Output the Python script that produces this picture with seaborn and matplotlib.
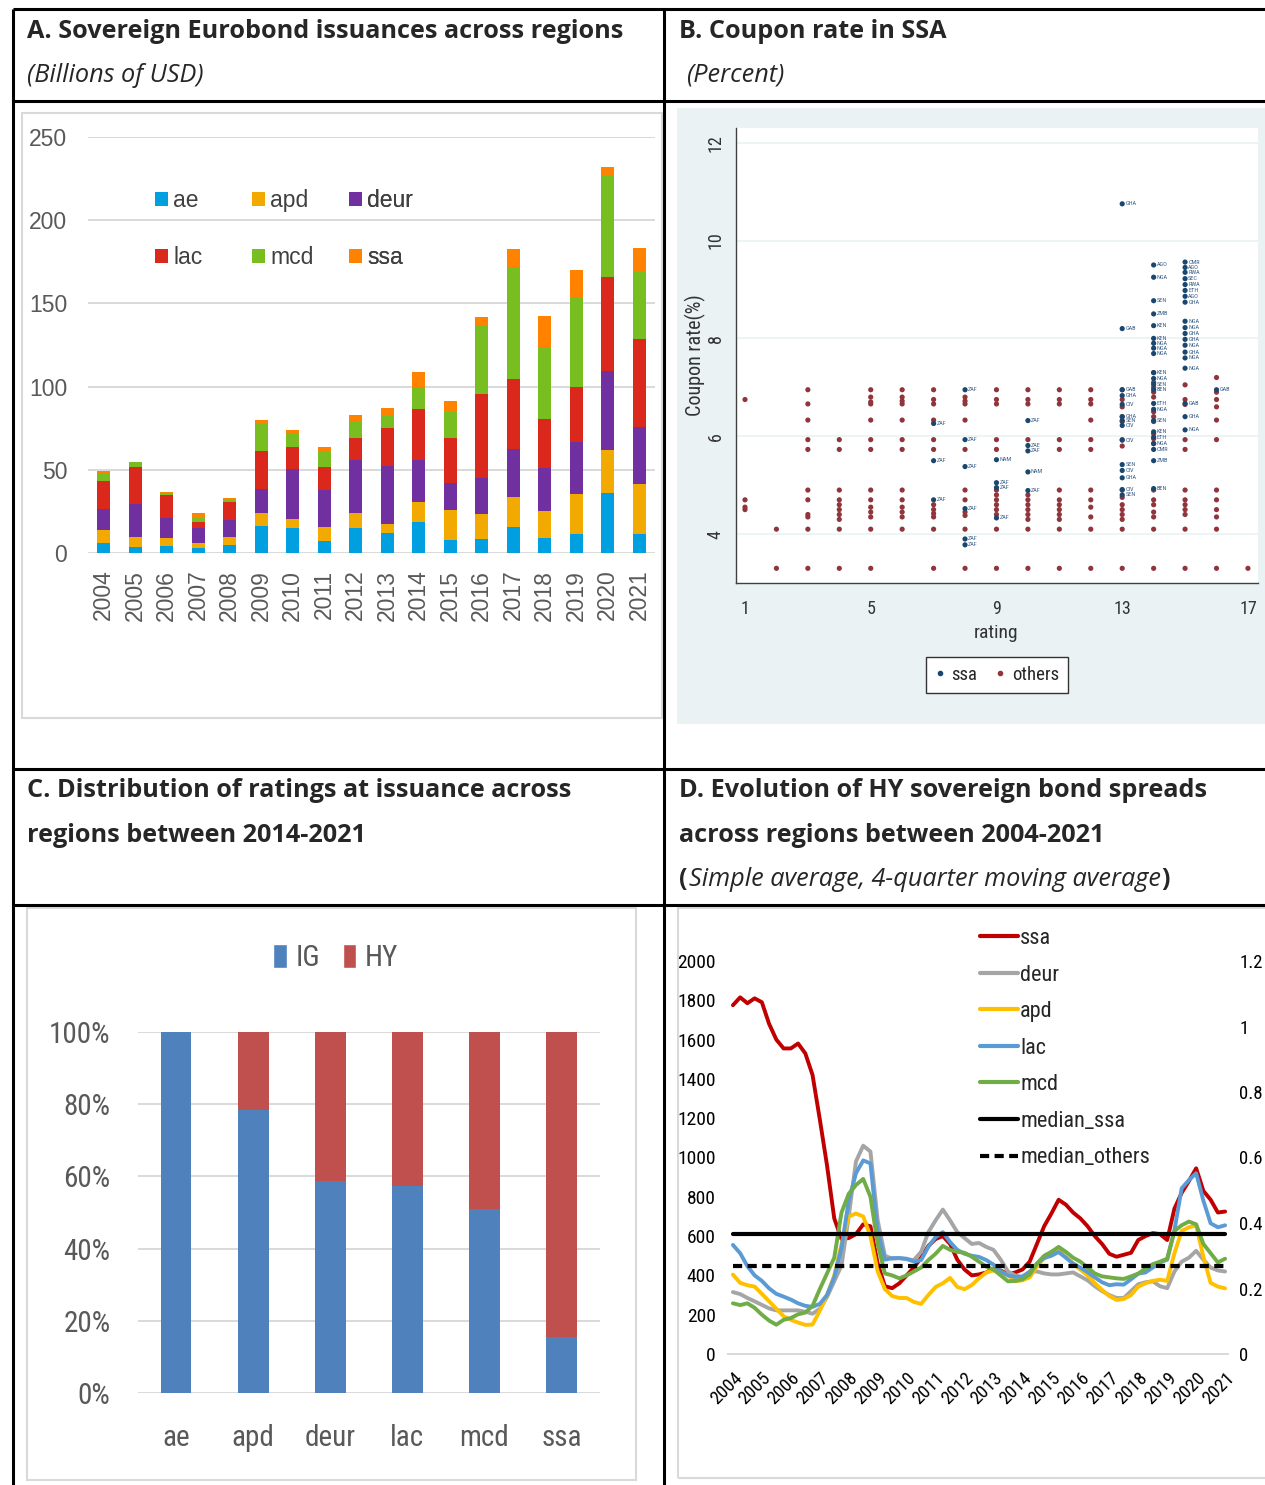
import numpy as np
import pandas as pd
import matplotlib
matplotlib.use("Agg")
import matplotlib.pyplot as plt
import seaborn as sns
from matplotlib.patches import Patch, Rectangle
from matplotlib.lines import Line2D
from matplotlib import font_manager as fm
from matplotlib.font_manager import FontProperties

# ---------------- Panel A data (Billions of USD) ----------------
years_a = [str(y) for y in range(2004, 2022)]
ae_iss   = [6.2, 3.4, 4.0, 2.8, 4.6, 16.3, 15.3, 7.0, 15.1, 11.9, 18.9, 7.8, 8.2, 15.9, 8.8, 11.3, 36.0, 11.3]
apd_iss  = [7.9, 6.4, 5.0, 3.4, 4.8, 7.6, 5.2, 8.5, 9.2, 5.4, 12.0, 18.1, 15.3, 17.9, 16.3, 23.9, 26.1, 30.3]
deur_iss = [12.2, 19.5, 11.9, 8.9, 10.5, 14.5, 30.1, 22.5, 31.8, 35.2, 25.2, 16.3, 21.7, 28.9, 26.1, 31.3, 47.0, 34.4]
lac_iss  = [16.9, 22.3, 13.7, 3.4, 10.6, 22.7, 13.1, 13.6, 13.0, 22.9, 30.3, 26.9, 50.3, 41.8, 29.2, 33.0, 56.5, 52.6]
mcd_iss  = [4.6, 3.1, 1.0, 2.8, 2.1, 16.3, 8.4, 9.7, 10.3, 6.8, 13.1, 15.5, 41.6, 67.5, 43.2, 54.6, 61.7, 40.8]
ssa_iss  = [1.2, 0.0, 0.8, 2.6, 0.2, 2.4, 2.1, 2.2, 3.4, 5.0, 9.0, 6.6, 4.8, 10.7, 19.1, 15.9, 4.8, 13.7]
regions_a = ["ae", "apd", "deur", "lac", "mcd", "ssa"]

# ---------------- Panel B data (coupon %, by rating) ----------------
others_ratings = list(range(1, 18))
others_coupons = [
    [6.75, 4.7, 4.55, 4.5],
    [4.1, 3.3],
    [6.95, 6.66, 6.33, 5.93, 5.73, 4.9, 4.7, 4.4, 4.35, 4.1, 3.3],
    [5.93, 5.73, 4.9, 4.7, 4.6, 4.5, 4.4, 4.3, 4.1, 3.3],
    [6.95, 6.8, 6.7, 6.66, 6.33, 5.93, 5.73, 4.9, 4.7, 4.55, 4.45, 4.35, 4.1, 3.3],
    [6.95, 6.8, 6.72, 6.66, 6.33, 5.93, 5.73, 4.9, 4.7, 4.55, 4.45, 4.35, 4.1],
    [6.95, 6.75, 6.66, 6.33, 5.93, 5.73, 4.6, 4.5, 4.42, 4.35, 4.1, 3.3],
    [6.8, 6.72, 6.66, 6.33, 5.73, 4.9, 4.7, 4.45, 4.38, 4.1, 3.3],
    [6.95, 6.75, 6.66, 5.93, 5.73, 4.9, 4.8, 4.7, 4.6, 4.5, 4.4, 4.1, 3.3],
    [6.95, 6.75, 6.66, 5.93, 4.8, 4.7, 4.6, 4.5, 4.4, 4.3, 4.1, 3.3],
    [6.95, 6.75, 6.66, 5.93, 5.73, 4.9, 4.7, 4.6, 4.5, 4.4, 4.3, 4.1, 3.3],
    [6.95, 6.75, 6.66, 6.33, 5.93, 5.73, 4.9, 4.7, 4.55, 4.35, 4.1, 3.3],
    [6.95, 6.75, 6.6, 6.4, 6.3, 5.93, 5.8, 4.9, 4.75, 4.6, 4.5, 4.4, 4.3, 4.1, 3.3],
    [7.3, 7.1, 7.0, 6.9, 6.8, 6.5, 6.4, 6.3, 6.05, 5.95, 5.85, 4.9, 4.7, 4.6, 4.45, 4.35, 4.1, 3.3],
    [7.05, 6.75, 6.65, 5.93, 5.73, 4.9, 4.7, 4.6, 4.5, 4.4, 4.1, 3.3],
    [7.2, 6.9, 6.75, 6.6, 6.33, 5.93, 4.9, 4.7, 4.5, 4.35, 4.1, 3.3],
    [3.3],
]
ssa_rating = [7, 7, 7,
              8, 8, 8, 8, 8, 8,
              9, 9, 9, 9,
              10, 10, 10, 10, 10,
              13, 13, 13, 13, 13, 13, 13, 13, 13, 13, 13, 13, 13, 13,
              14, 14, 14, 14, 14, 14, 14, 14, 14, 14, 14, 14, 14, 14, 14, 14, 14, 14, 14, 14, 14, 14,
              15, 15, 15, 15, 15, 15, 15, 15, 15, 15, 15, 15, 15, 15, 15, 15, 15, 15, 15,
              16]
ssa_coupon = [6.26, 5.5, 4.7,
              6.95, 5.93, 5.38, 4.52, 3.9, 3.78,
              5.52, 5.05, 4.95, 4.33,
              6.32, 5.81, 5.7, 5.27, 4.89,
              10.75, 8.2, 6.95, 6.83, 6.65, 6.4, 6.32, 6.22, 5.92, 5.42, 5.3, 5.15, 4.91, 4.8,
              9.5, 9.25, 8.77, 8.5, 8.26, 8.0, 7.9, 7.8, 7.69, 7.3, 7.18, 7.06, 6.95, 6.67, 6.55,
              6.32, 6.09, 5.98, 5.85, 5.73, 5.5, 4.93,
              9.56, 9.45, 9.35, 9.22, 9.1, 8.98, 8.86, 8.74, 8.35, 8.22, 8.1, 7.98, 7.86, 7.72, 7.6,
              7.39, 6.67, 6.4, 6.13,
              6.95]
ssa_code = ["ZAF", "ZAF", "ZAF",
            "ZAF", "ZAF", "ZAF", "ZAF", "ZAF", "ZAF",
            "NAM", "ZAF", "ZAF", "ZAF",
            "ZAF", "ZAE", "ZAF", "NAM", "ZAF",
            "GHA", "GAB", "GAB", "GHA", "CIV", "GHA", "SEN", "CIV", "CIV", "SEN", "CIV", "GHA", "CIV", "SEN",
            "AGO", "NGA", "SEN", "ZMB", "KEN", "KEN", "NGA", "NGA", "NGA", "KEN", "NGA", "SEN", "BEN",
            "ETH", "NGA", "SEN", "KEN", "ETH", "NGA", "CMR", "ZMB", "BEN",
            "CMR", "AGO", "RWA", "SEC", "RWA", "ETH", "AGO", "GHA", "NGA", "NGA", "GHA", "GHA", "NGA",
            "GHA", "NGA", "NGA", "GAB", "GHA", "NGA",
            "GAB"]

# ---------------- Panel C data (share of issuance) ----------------
regions_c = ["ae", "apd", "deur", "lac", "mcd", "ssa"]
ig_share = [100.0, 78.4, 58.8, 57.4, 51.1, 15.6]
hy_share = [0.0, 21.6, 41.2, 42.6, 48.9, 84.4]

# ---------------- Panel D data (spreads, quarterly 2004Q1-2021Q1) ----------------
quarters = np.arange(2004.0, 2021.01, 0.25)
spread_ssa = [1775, 1815, 1785, 1810, 1790, 1680, 1600, 1555, 1555, 1580, 1530, 1420,
              1195, 960, 690, 585, 590, 610, 660, 650, 460, 345, 335, 360,
              400, 440, 490, 550, 585, 600, 560, 480, 430, 400, 405, 415,
              435, 425, 405, 415, 430, 470, 560, 650, 715, 785, 760, 720,
              690, 650, 600, 560, 510, 495, 505, 515, 580, 600, 615, 610,
              580, 740, 820, 880, 945, 830, 785, 720, 725]
spread_deur = [315, 305, 285, 268, 250, 232, 222, 222, 222, 222, 215, 205,
               230, 290, 370, 450, 700, 980, 1060, 1030, 680, 500, 485, 488,
               482, 478, 520, 620, 680, 735, 680, 620, 590, 560, 565, 545,
               530, 480, 420, 400, 390, 420, 420, 410, 405, 405, 410, 415,
               395, 375, 345, 320, 300, 285, 285, 320, 355, 365, 370, 345,
               335, 420, 470, 490, 525, 480, 440, 425, 420]
spread_apd = [404, 362, 350, 343, 306, 268, 230, 192, 174, 160, 148, 150,
              220, 300, 400, 560, 700, 715, 700, 600, 420, 330, 295, 285,
              285, 265, 255, 300, 341, 360, 387, 341, 330, 351, 385, 415,
              425, 420, 400, 370, 375, 390, 445, 490, 515, 530, 495, 460,
              430, 400, 360, 326, 295, 275, 280, 300, 343, 360, 372, 378,
              372, 513, 626, 645, 655, 494, 362, 343, 334]
spread_lac = [555, 513, 447, 400, 372, 334, 306, 292, 277, 258, 245, 240,
              255, 300, 390, 540, 780, 920, 985, 970, 620, 480, 488, 488,
              485, 470, 478, 545, 595, 620, 570, 530, 510, 500, 494, 478,
              455, 420, 400, 392, 395, 417, 460, 488, 500, 519, 490, 460,
              440, 417, 390, 365, 350, 355, 353, 380, 409, 415, 440, 466,
              480, 630, 843, 885, 920, 780, 665, 645, 655]
spread_mcd = [258, 249, 258, 235, 200, 170, 149, 174, 183, 202, 211, 245,
              330, 410, 490, 720, 815, 860, 891, 800, 560, 410, 400, 385,
              400, 420, 440, 478, 510, 550, 530, 520, 515, 495, 470, 445,
              430, 400, 370, 372, 380, 405, 460, 500, 520, 545, 520, 490,
              470, 440, 410, 395, 390, 385, 382, 395, 409, 435, 457, 470,
              485, 626, 655, 674, 660, 560, 513, 466, 485]
median_ssa = 610
median_others = 447
year_ticks = list(range(2004, 2022))

# ---------------- styling ----------------
sns.set_theme(style="white")
ARIAL = ["Liberation Sans", "DejaVu Sans"]
HEAD = ["Open Sans", "DejaVu Sans"]
plt.rcParams["font.family"] = ARIAL


def pick_narrow():
    fl = fm.fontManager.ttflist
    names = {f.name for f in fl}
    for n in ["Roboto Condensed", "Liberation Sans Narrow", "Arial Narrow",
              "Open Sans Condensed", "DejaVu Sans Condensed", "Noto Sans Condensed"]:
        if n in names:
            return n, "normal"
    for pref in ["Liberation Sans", "Open Sans", "Noto Sans", "DejaVu Sans", "Roboto"]:
        for f in fl:
            if f.name == pref and f.stretch in ("condensed", "semi-condensed") and f.style == "normal" \
                    and f.weight in (400, "normal", "regular"):
                return f.name, f.stretch
    return "Liberation Sans", "normal"


NFAM, NSTR = pick_narrow()


def nfp(size, weight="normal"):
    return FontProperties(family=[NFAM, "DejaVu Sans"], stretch=NSTR, size=size, weight=weight)


W, H = 1265, 1485
fig = plt.figure(figsize=(W / 100, H / 100), dpi=100)
fig.patch.set_facecolor("white")


def fx(px):
    return px / W


def fy(py):
    return 1 - py / H


def hline(y, x0, x1, lw=2.2, color="black"):
    fig.add_artist(Line2D([fx(x0), fx(x1)], [fy(y), fy(y)], transform=fig.transFigure,
                          color=color, lw=lw, solid_capstyle="butt"))


def vline(x, y0, y1, lw=2.2, color="black"):
    fig.add_artist(Line2D([fx(x), fx(x)], [fy(y0), fy(y1)], transform=fig.transFigure,
                          color=color, lw=lw, solid_capstyle="butt"))


def box(x0, y0, x1, y1, color="#D9D9D9", face="none", lw=1.5, z=0):
    fig.add_artist(Rectangle((fx(x0), fy(y1)), (x1 - x0) / W, (y1 - y0) / H,
                             transform=fig.transFigure, facecolor=face,
                             edgecolor=color, lw=lw, zorder=z))


# table lines
hline(9, 13, W)
hline(101, 13, W)
hline(769, 13, W)
hline(905, 13, W)
vline(13, 9, H)
vline(664, 9, H)

# headers
HS = 18.2
hkw = dict(fontsize=HS, fontweight="bold", family=HEAD, va="center", ha="left")
ikw = dict(fontsize=HS, style="italic", family=HEAD, va="center", ha="left")
fig.text(fx(27), fy(31), "A. Sovereign Eurobond issuances across regions", **hkw)
fig.text(fx(27), fy(75), "(Billions of USD)", **ikw)
fig.text(fx(679), fy(31), "B. Coupon rate in SSA", **hkw)
fig.text(fx(686), fy(75), "(Percent)", **ikw)
fig.text(fx(27), fy(791), "C. Distribution of ratings at issuance across", **hkw)
fig.text(fx(27), fy(836), "regions between 2014-2021", **hkw)
fig.text(fx(679), fy(791), "D. Evolution of HY sovereign bond spreads", **hkw)
fig.text(fx(679), fy(836), "across regions between 2004-2021", **hkw)

fig.canvas.draw()
renderer = fig.canvas.get_renderer()
t1 = fig.text(fx(679), fy(880), "(", **hkw)
x_cur = t1.get_window_extent(renderer).x1
t2 = fig.text(x_cur / W + 0.0008, fy(880), "Simple average, 4-quarter moving average", **ikw)
x_cur = t2.get_window_extent(renderer).x1
fig.text(x_cur / W + 0.0008, fy(880), ")", **hkw)

# ================= Panel A =================
box(22, 113, 662, 718)
axA = fig.add_axes([fx(88), fy(553), (655 - 88) / W, (553 - 137) / H])
colA = {"ae": "#009FDF", "apd": "#F2A900", "deur": "#7030A0",
        "lac": "#DA291C", "mcd": "#78BE20", "ssa": "#FF8200"}
layers = [ae_iss, apd_iss, deur_iss, lac_iss, mcd_iss, ssa_iss]
cum = np.cumsum(np.array(layers), axis=0)
for i in range(len(regions_a) - 1, -1, -1):
    sns.barplot(x=years_a, y=cum[i], color=colA[regions_a[i]], width=0.41,
                saturation=1, errorbar=None, linewidth=0, ax=axA, zorder=3)
axA.set_xlim(-0.5, 17.5)
axA.set_ylim(0, 250)
axA.set_yticks(range(0, 251, 50))
axA.grid(axis="y", color="#D9D9D9", lw=1.4, zorder=0)
axA.set_axisbelow(True)
for s in axA.spines.values():
    s.set_visible(False)
axA.tick_params(axis="y", length=0, pad=15, labelsize=16.5, labelcolor="#595959")
axA.tick_params(axis="x", length=0, pad=12, labelsize=16.5, labelcolor="#595959", rotation=90)
axA.set_xlabel("")
axA.set_ylabel("")
handlesA = {r: Patch(facecolor=colA[r], edgecolor="none", label=r) for r in regions_a}
for col_regs, xpx in [(["ae", "lac"], 155), (["apd", "mcd"], 252), (["deur", "ssa"], 349)]:
    lg = axA.legend([handlesA[r] for r in col_regs], col_regs, ncol=1,
                    loc="upper left", bbox_to_anchor=(fx(xpx), fy(189)),
                    bbox_transform=fig.transFigure, frameon=False, fontsize=16.5,
                    handlelength=0.55, handleheight=0.55, handletextpad=0.25,
                    labelspacing=1.5, borderpad=0, borderaxespad=0, labelcolor="#404040")
    axA.add_artist(lg)

# ================= Panel B =================
box(677, 108, 1266, 724, color="#EAF2F3", face="#EAF2F3", lw=0, z=-1)
axB = fig.add_axes([fx(736), fy(583), (1258 - 736) / W, (583 - 128) / H])
axB.set_facecolor("white")
o_r, o_c = [], []
for r, cs in zip(others_ratings, others_coupons):
    o_r += [r] * len(cs)
    o_c += cs
dfo = pd.DataFrame({"rating": o_r, "coupon": o_c})
dfs = pd.DataFrame({"rating": ssa_rating, "coupon": ssa_coupon, "code": ssa_code})
MAROON, NAVY = "#90353B", "#1A476F"
sns.scatterplot(data=dfo, x="rating", y="coupon", color=MAROON, s=14, edgecolor="none",
                ax=axB, zorder=3)
sns.scatterplot(data=dfs, x="rating", y="coupon", color=NAVY, s=14, edgecolor="none",
                ax=axB, zorder=4)
for r, c, t in zip(ssa_rating, ssa_coupon, ssa_code):
    axB.annotate(t, (r, c), xytext=(2.2, 0), textcoords="offset points",
                 color="#3A5F88", va="center", ha="left", fontproperties=nfp(4.5), zorder=5)
axB.set_xlim(0.714, 17.32)
axB.set_ylim(3.0, 12.3)
axB.set_xticks([1, 5, 9, 13, 17])
axB.set_yticks([4, 6, 8, 10, 12])
axB.grid(axis="y", color="#EAF2F3", lw=1.2)
axB.grid(axis="x", visible=False)
axB.set_axisbelow(True)
for k in ["top", "right"]:
    axB.spines[k].set_visible(False)
for k in ["left", "bottom"]:
    axB.spines[k].set_color("#404040")
    axB.spines[k].set_linewidth(1.0)
axB.tick_params(axis="x", length=5, width=0.8, color="#404040", pad=7, labelcolor="#333333")
axB.tick_params(axis="y", length=5, width=0.8, color="#404040", pad=3, labelcolor="#333333",
                labelrotation=90)
for lab in axB.get_xticklabels() + axB.get_yticklabels():
    lab.set_fontproperties(nfp(13))
for lab in axB.get_yticklabels():
    lab.set_va("center")
axB.set_xlabel("rating", fontproperties=nfp(14), color="#333333")
axB.set_ylabel("Coupon rate(%)", fontproperties=nfp(14.5), color="#333333")
axB.xaxis.set_label_coords(0.498, -0.09)
axB.yaxis.set_label_coords(-0.058, 0.5)
legB = axB.legend(handles=[Line2D([], [], ls="none", marker="o", ms=3, color=NAVY, label="ssa"),
                           Line2D([], [], ls="none", marker="o", ms=3, color=MAROON, label="others")],
                  loc="center", bbox_to_anchor=(fx(997), fy(675)), bbox_transform=fig.transFigure,
                  ncol=2, frameon=True, fancybox=False, edgecolor="#333333", framealpha=1,
                  handlelength=0.5, handletextpad=0.35, columnspacing=1.0,
                  borderpad=0.5, borderaxespad=0, prop=nfp(13.5))
legB.get_frame().set_linewidth(1.0)

# ================= Panel C =================
box(27, 908, 636, 1480)
axC = fig.add_axes([fx(137.5), fy(1393), (600 - 137.5) / W, (1393 - 1032) / H])
IG_C, HY_C = "#4F81BD", "#C0504D"
total_c = np.array(ig_share) + np.array(hy_share)
sns.barplot(x=regions_c, y=total_c, color=HY_C, width=0.4, saturation=1, errorbar=None,
            linewidth=0, ax=axC, zorder=3)
sns.barplot(x=regions_c, y=ig_share, color=IG_C, width=0.4, saturation=1, errorbar=None,
            linewidth=0, ax=axC, zorder=3)
axC.set_xlim(-0.5, 5.5)
axC.set_ylim(0, 100)
axC.set_yticks(range(0, 101, 20))
axC.set_yticklabels([f"{v}%" for v in range(0, 101, 20)])
axC.grid(axis="y", color="#D9D9D9", lw=1.4, zorder=0)
axC.set_axisbelow(True)
for s in axC.spines.values():
    s.set_visible(False)
axC.tick_params(axis="y", length=0, pad=19.5, labelcolor="#595959")
axC.tick_params(axis="x", length=0, pad=22, labelcolor="#595959")
for lab in axC.get_xticklabels() + axC.get_yticklabels():
    lab.set_fontproperties(nfp(21))
axC.set_xlabel("")
axC.set_ylabel("")
axC.legend(handles=[Patch(facecolor=IG_C, label="IG"), Patch(facecolor=HY_C, label="HY")],
           loc="center", bbox_to_anchor=(fx(336), fy(958)), bbox_transform=fig.transFigure,
           ncol=2, frameon=False, handlelength=0.45, handleheight=0.9, handletextpad=0.3,
           columnspacing=0.8, prop=nfp(21), labelcolor="#595959")

# ================= Panel D =================
box(678, 908, 1268, 1478)
axD = fig.add_axes([fx(728), fy(1354), (1228 - 728) / W, (1354 - 961) / H])
series_names = ["ssa", "deur", "apd", "lac", "mcd"]
series_vals = [spread_ssa, spread_deur, spread_apd, spread_lac, spread_mcd]
colD = {"ssa": "#C00000", "deur": "#A5A5A5", "apd": "#FFC000", "lac": "#5B9BD5", "mcd": "#70AD47"}
dfd = pd.concat([pd.DataFrame({"quarter": quarters, "spread": v, "region": n})
                 for n, v in zip(series_names, series_vals)], ignore_index=True)
for n in series_names:
    sns.lineplot(data=dfd[dfd.region == n], x="quarter", y="spread", color=colD[n],
                 lw=2.8, ax=axD, zorder=3)
sns.lineplot(x=quarters, y=[median_ssa] * len(quarters), color="black", lw=3.0, ax=axD, zorder=4)
sns.lineplot(x=quarters, y=[median_others] * len(quarters), color="black", lw=3.0, ax=axD, zorder=4)
axD.lines[-1].set_dashes([2.2, 1.3])
axD.set_xlim(2003.83, 2021.10)
axD.set_ylim(0, 2000)
axD.set_yticks(range(0, 2001, 200))
axD.set_xticks(year_ticks)
axD.set_xticklabels([str(y) for y in year_ticks], rotation=45, ha="right",
                    rotation_mode="anchor")
for k in ["top", "right", "left"]:
    axD.spines[k].set_visible(False)
axD.spines["bottom"].set_color("#D9D9D9")
axD.spines["bottom"].set_linewidth(1.4)
axD.grid(False)
axD.tick_params(axis="y", length=0, pad=9, labelcolor="black")
axD.tick_params(axis="x", length=0, pad=11, labelcolor="black")
for lab in axD.get_yticklabels():
    lab.set_fontproperties(nfp(14))
for lab in axD.get_xticklabels():
    lab.set_fontproperties(nfp(13.5))
axD.set_xlabel("")
axD.set_ylabel("")
axD2 = axD.twinx()
axD2.set_ylim(0, 1.2)
axD2.set_yticks([0, 0.2, 0.4, 0.6, 0.8, 1.0, 1.2])
axD2.set_yticklabels(["0", "0.2", "0.4", "0.6", "0.8", "1", "1.2"])
for s in axD2.spines.values():
    s.set_visible(False)
axD2.tick_params(axis="y", length=0, pad=8, labelcolor="black")
for lab in axD2.get_yticklabels():
    lab.set_fontproperties(nfp(13.5))
axD2.grid(False)
handlesD = [Line2D([], [], color=colD[n], lw=3) for n in series_names]
handlesD += [Line2D([], [], color="black", lw=3),
             Line2D([], [], color="black", lw=3, dashes=[2.2, 1.3])]
labelsD = series_names + ["median_ssa", "median_others"]
axD2.legend(handlesD, labelsD, loc="upper left", bbox_to_anchor=(fx(980), fy(928)),
            bbox_transform=fig.transFigure, frameon=False, handlelength=1.7,
            handletextpad=0.1, labelspacing=0.7, borderpad=0, borderaxespad=0,
            prop=nfp(16))

fig.savefig("out.png", dpi=100, facecolor="white")
